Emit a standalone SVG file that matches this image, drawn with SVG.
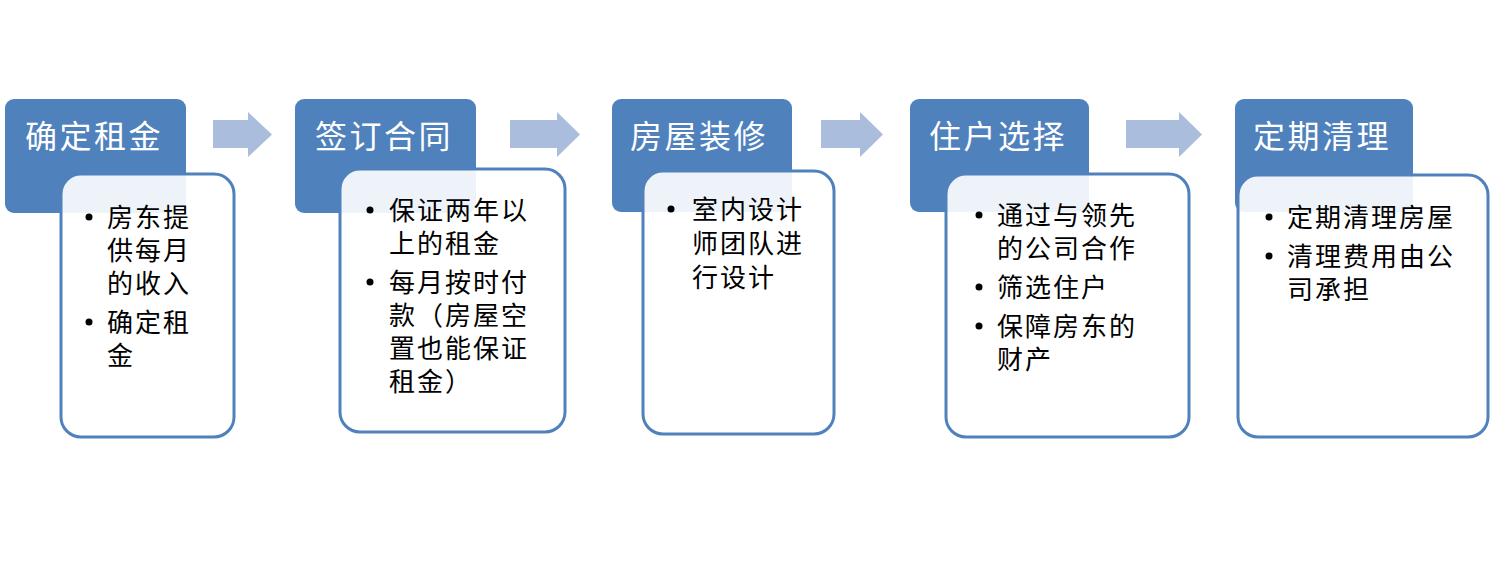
<svg xmlns="http://www.w3.org/2000/svg" width="1490" height="585" viewBox="0 0 1490 585">
<style>
.hd{fill:#4F81BD}
.bd{fill:#FFFFFF;fill-opacity:0.9;stroke:#4F81BD;stroke-width:3}
.tt{font-family:"Noto Sans CJK SC","Noto Sans",sans-serif;font-size:32px;fill:#FFFFFF;letter-spacing:2.5px}
.tx{font-family:"Noto Sans CJK SC","Noto Sans",sans-serif;font-size:26px;fill:#000000;letter-spacing:2px}
.bu{fill:#000000}
.ar{fill:#ABBDDC}
</style>
<rect width="1490" height="585" fill="#FFFFFF"/>
<g id="connectors">
<polygon class="ar" points="213,120 248,120 248,112 272,134.5 248,157 248,148 213,148"/>
<polygon class="ar" points="510,120 557,120 557,112 580,134.5 557,157 557,148 510,148"/>
<polygon class="ar" points="821,120 860,120 860,112 883,134.5 860,157 860,148 821,148"/>
<polygon class="ar" points="1126,120 1179,120 1179,112 1202,134.5 1179,157 1179,148 1126,148"/>
</g>
<g id="node1">
<rect class="hd" x="5" y="99" width="181" height="114" rx="9"/>
<text class="tt" x="25" y="148">确定租金</text>
<rect class="bd" x="61" y="174" width="173" height="263" rx="20"/>
<circle class="bu" cx="89" cy="217" r="3.5"/>
<circle class="bu" cx="89" cy="322" r="3.5"/>
<text class="tx"><tspan x="107" y="227">房东提</tspan><tspan x="107" y="260">供每月</tspan><tspan x="107" y="293">的收入</tspan><tspan x="107" y="332">确定租</tspan><tspan x="107" y="365">金</tspan></text>
</g>
<g id="node2">
<rect class="hd" x="295" y="99" width="181" height="114" rx="9"/>
<text class="tt" x="315" y="148">签订合同</text>
<rect class="bd" x="340" y="169" width="225" height="263" rx="20"/>
<circle class="bu" cx="370" cy="210" r="3.5"/>
<circle class="bu" cx="370" cy="282" r="3.5"/>
<text class="tx"><tspan x="389" y="220">保证两年以</tspan><tspan x="389" y="253">上的租金</tspan><tspan x="389" y="292">每月按时付</tspan><tspan x="389" y="325">款（房屋空</tspan><tspan x="389" y="358">置也能保证</tspan><tspan x="389" y="391">租金）</tspan></text>
</g>
<g id="node3">
<rect class="hd" x="612" y="99" width="180" height="113" rx="9"/>
<text class="tt" x="630" y="148">房屋装修</text>
<rect class="bd" x="643" y="171" width="191" height="263" rx="20"/>
<circle class="bu" cx="671" cy="209" r="3.5"/>
<text class="tx"><tspan x="692" y="219">室内设计</tspan><tspan x="692" y="253">师团队进</tspan><tspan x="692" y="287">行设计</tspan></text>
</g>
<g id="node4">
<rect class="hd" x="910" y="99" width="179" height="113" rx="9"/>
<text class="tt" x="929" y="148">住户选择</text>
<rect class="bd" x="946" y="174" width="243" height="263" rx="20"/>
<circle class="bu" cx="979" cy="215" r="3.5"/>
<circle class="bu" cx="979" cy="287" r="3.5"/>
<circle class="bu" cx="979" cy="326" r="3.5"/>
<text class="tx"><tspan x="997" y="225">通过与领先</tspan><tspan x="997" y="258">的公司合作</tspan><tspan x="997" y="297">筛选住户</tspan><tspan x="997" y="336">保障房东的</tspan><tspan x="997" y="369">财产</tspan></text>
</g>
<g id="node5">
<rect class="hd" x="1235" y="99" width="178" height="113" rx="9"/>
<text class="tt" x="1253" y="148">定期清理</text>
<rect class="bd" x="1238" y="175" width="250" height="262" rx="20"/>
<circle class="bu" cx="1269" cy="217" r="3.5"/>
<circle class="bu" cx="1269" cy="256" r="3.5"/>
<text class="tx"><tspan x="1287" y="227">定期清理房屋</tspan><tspan x="1287" y="266">清理费用由公</tspan><tspan x="1287" y="299">司承担</tspan></text>
</g>
</svg>
